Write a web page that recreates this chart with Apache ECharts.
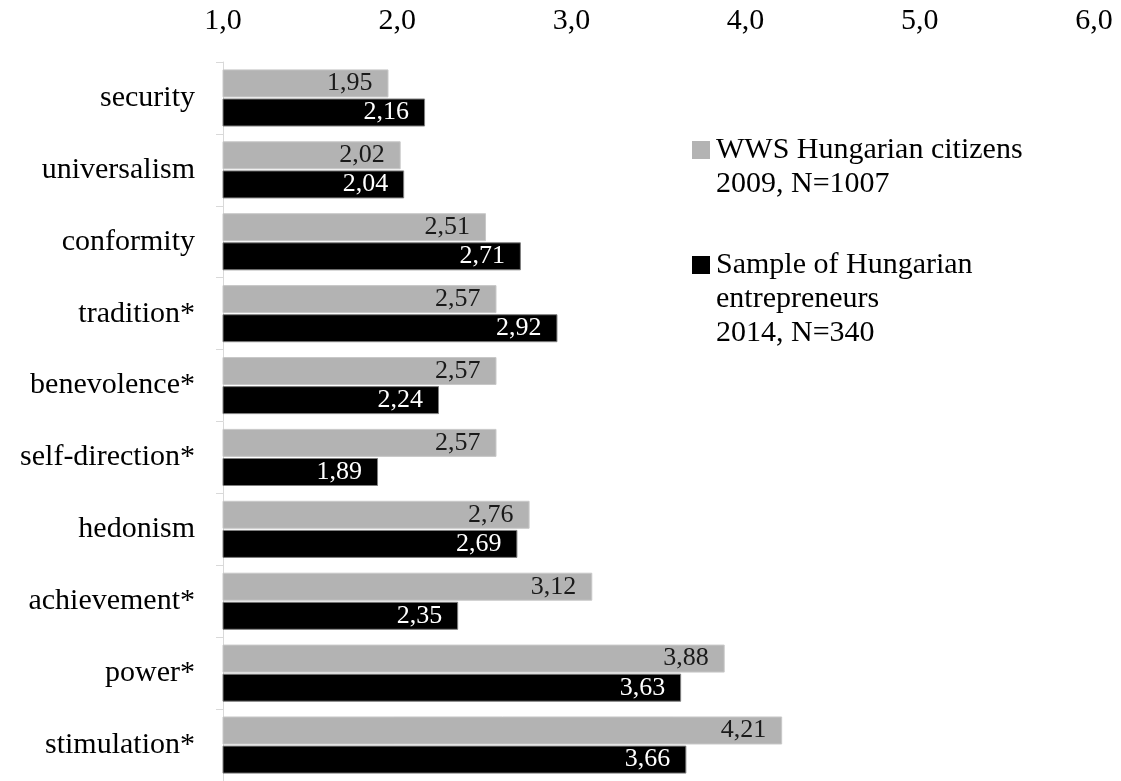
<!DOCTYPE html>
<html>
<head>
<meta charset="utf-8">
<title>Value priorities: WWS citizens vs entrepreneurs</title>
<script src="https://cdn.jsdelivr.net/npm/echarts@6/dist/echarts.min.js"></script>
<style>
  html, body { margin: 0; padding: 0; background: #fff; }
  #chart { width: 1121px; height: 781px; }
</style>
</head>
<body>
<div id="chart"></div>
<script>
// ── Data ─────────────────────────────────────────────────────────────────────
const CATEGORIES = [
  'security', 'universalism', 'conformity', 'tradition*', 'benevolence*',
  'self-direction*', 'hedonism', 'achievement*', 'power*', 'stimulation*'
];
const SERIES_NAMES = [
  'WWS Hungarian citizens\n2009, N=1007',
  'Sample of Hungarian\nentrepreneurs\n2014, N=340'
];
const WWS_2009     = [1.95, 2.02, 2.51, 2.57, 2.57, 2.57, 2.76, 3.12, 3.88, 4.21];
const ENTREPR_2014 = [2.16, 2.04, 2.71, 2.92, 2.24, 1.89, 2.69, 2.35, 3.63, 3.66];
const X_MIN = 1, X_MAX = 6, X_STEP = 1;

const FONT = '"Liberation Serif", "Times New Roman", serif';
const GREY = '#b3b3b3';
const BLACK = '#000000';

const fmtComma = (v, d) => Number(v).toFixed(d).replace('.', ',');

// legend square drawn as a rich-text box so it sits on the first line
function legendText(name) {
  const idx = SERIES_NAMES.indexOf(name);
  const lines = name.split('\n');
  return lines.map((l, i) => i === 0 ? `{sq${idx}|}{gap|}${l}` : `{ind|}${l}`).join('\n');
}

const chart = echarts.init(document.getElementById('chart'), null, { renderer: 'canvas' });

chart.setOption({
  animation: false,
  backgroundColor: '#fff',
  textStyle: { fontFamily: FONT },
  grid: { left: 223, right: 27, top: 62, height: 724, containLabel: false },
  legend: {
    orient: 'vertical',
    left: 687,
    top: 133,
    padding: 0,
    itemGap: 47,
    itemWidth: 0,
    itemHeight: 0,
    icon: 'none',
    selectedMode: false,
    data: SERIES_NAMES,
    formatter: legendText,
    textStyle: {
      fontFamily: FONT, fontSize: 30, color: '#000', lineHeight: 34,
      rich: {
        sq0: { width: 18, height: 18, backgroundColor: GREY, lineHeight: 34 },
        sq1: { width: 18, height: 18, backgroundColor: BLACK, lineHeight: 34 },
        gap: { width: 6, lineHeight: 34 },
        ind: { width: 24, lineHeight: 34 }
      }
    }
  },
  xAxis: {
    type: 'value',
    position: 'top',
    min: X_MIN,
    max: X_MAX,
    interval: X_STEP,
    axisLine: { show: false },
    axisTick: { show: false },
    splitLine: { show: false },
    axisLabel: {
      margin: 26,
      fontFamily: FONT,
      fontSize: 30,
      color: '#000',
      formatter: v => fmtComma(v, 1)
    }
  },
  yAxis: {
    type: 'category',
    inverse: true,
    data: CATEGORIES,
    axisLine: { show: true, lineStyle: { color: '#d9d9d9', width: 1 } },
    axisTick: { show: true, length: 7, lineStyle: { color: '#d9d9d9' } },
    axisLabel: { margin: 28, fontFamily: FONT, fontSize: 30, color: '#000' }
  },
  series: [
    {
      name: SERIES_NAMES[0],
      type: 'bar',
      data: WWS_2009,
      barWidth: 28,
      barGap: '4%',
      itemStyle: { color: GREY, borderColor: '#c8c8c8', borderWidth: 1 },
      label: {
        show: true, position: 'insideRight', distance: 16,
        fontFamily: FONT, fontSize: 26, color: '#1a1a1a',
        formatter: p => fmtComma(p.value, 2)
      }
    },
    {
      name: SERIES_NAMES[1],
      type: 'bar',
      data: ENTREPR_2014,
      barWidth: 28,
      barGap: '4%',
      itemStyle: { color: BLACK, borderColor: '#7f7f7f', borderWidth: 1 },
      label: {
        show: true, position: 'insideRight', distance: 16,
        fontFamily: FONT, fontSize: 26, color: '#fff',
        formatter: p => fmtComma(p.value, 2)
      }
    }
  ]
});
</script>
</body>
</html>
